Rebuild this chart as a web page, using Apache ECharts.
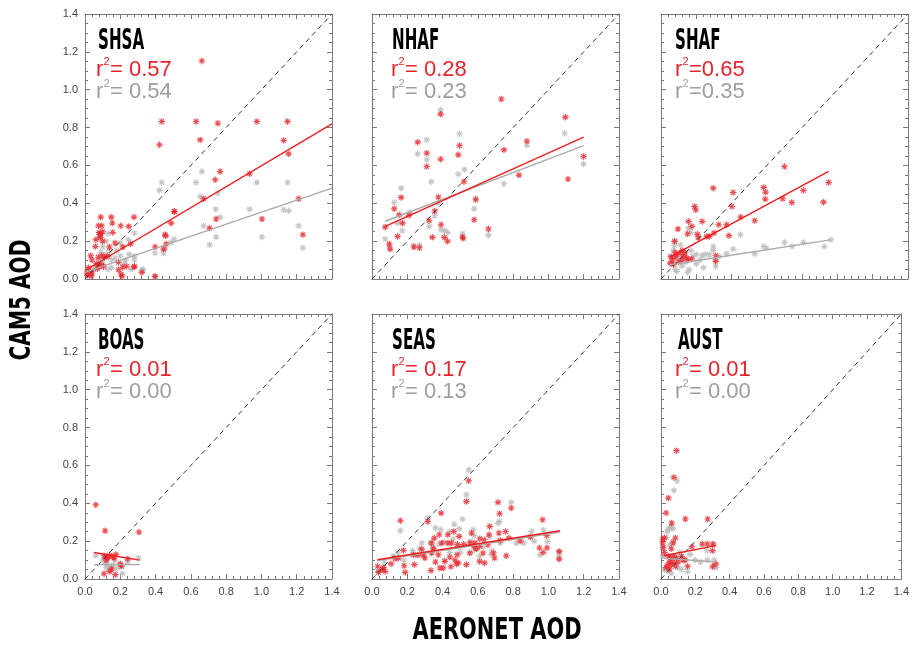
<!DOCTYPE html>
<html><head><meta charset="utf-8">
<script src="https://cdn.jsdelivr.net/npm/echarts@6/dist/echarts.min.js"></script>
<style>html,body{margin:0;padding:0;background:#fff}#c{width:912px;height:645px}</style>
</head><body><div id="c"></div>
<script>
const regions = ['SHSA','NHAF','SHAF','BOAS','SEAS','AUST'];
const r2Red = ['0.57','0.28','0.65','0.01','0.17','0.01'];
const r2Gray = ['0.54','0.23','0.35','0.00','0.13','0.00'];
const r2Sep = [' ',' ','',' ',' ',' '];
const tickValues = [0,0.2,0.4,0.6,0.8,1.0,1.2,1.4];

const shsaRed = [[0.662,1.152],[0.435,0.832],[0.630,0.832],[0.753,0.823],[0.974,0.832],[1.148,0.832],[0.422,0.709],[0.653,0.735],[1.126,0.732],[1.154,0.661],[0.766,0.568],[0.738,0.524],[0.933,0.556],[0.672,0.424],[1.211,0.424],[0.505,0.357],[0.743,0.317],[1.003,0.317],[0.488,0.295],[0.706,0.269],[1.235,0.234],[0.454,0.234],[0.460,0.185],[0.397,0.169],[0.445,0.158],[0.397,0.014],[0.322,0.035],[0.280,0.067],
[0.089,0.327],[0.149,0.327],[0.278,0.327],[0.076,0.281],[0.095,0.281],[0.155,0.296],[0.202,0.281],[0.248,0.278],[0.08,0.245],[0.09,0.24],[0.1,0.25],[0.085,0.235],[0.157,0.246],[0.062,0.208],[0.087,0.22],[0.059,0.172],[0.1,0.2],[0.138,0.169],[0.17,0.19],[0.214,0.169],[0.259,0.186],[0.032,0.123],[0.04,0.1],[0.075,0.115],[0.095,0.123],[0.11,0.115],[0.13,0.12],[0.02,0.06],[0.03,0.04],[0.015,0.02],[0.035,0.015],[0.04,0.03],[0.01,0.03],[0.066,0.081],[0.08,0.065],[0.095,0.075],[0.105,0.065],[0.07,0.055],[0.189,0.088],[0.214,0.062],[0.19,0.049],[0.236,0.067],[0.278,0.063],[0.21,0.015],[0.205,0.025],[0.457,0.228],[0.507,0.356]];
const shsaGray = [[0.662,0.568],[0.435,0.510],[0.630,0.510],[0.422,0.468],[0.974,0.510],[1.148,0.510],[0.753,0.454],[0.653,0.436],[0.741,0.369],[0.933,0.369],[1.126,0.366],[1.154,0.360],[0.766,0.327],[0.672,0.281],[1.211,0.281],[0.706,0.181],[0.743,0.222],[1.003,0.222],[1.235,0.164],[0.505,0.211],[0.488,0.193],[0.454,0.158],[0.397,0.137],[0.445,0.137],[0.397,0.014],[0.28,0.243],[0.246,0.208],[0.322,0.049],
[0.05,0.05],[0.08,0.1],[0.1,0.09],[0.12,0.13],[0.15,0.1],[0.18,0.15],[0.2,0.12],[0.22,0.08],[0.25,0.13],[0.1,0.17],[0.12,0.2],[0.08,0.22],[0.15,0.06],[0.03,0.03],[0.06,0.07],[0.13,0.05],[0.17,0.11],[0.2,0.19],[0.23,0.1],[0.26,0.05],[0.28,0.1],[0.14,0.15],[0.09,0.14],[0.13,0.24],[0.28,0.12],[0.33,0.05]];

const nhafRed = [[0.733,0.951],[0.389,0.871],[1.096,0.855],[0.259,0.723],[0.496,0.705],[0.878,0.728],[0.310,0.665],[0.489,0.656],[0.748,0.682],[0.389,0.633],[0.310,0.594],[1.199,0.647],[0.521,0.514],[0.833,0.549],[1.111,0.528],[0.165,0.431],[0.588,0.419],[0.126,0.371],[0.376,0.433],[0.154,0.339],[0.210,0.336],[0.355,0.359],[0.075,0.274],[0.173,0.295],[0.323,0.308],[0.391,0.287],[0.579,0.313],[0.660,0.264],[0.145,0.225],[0.342,0.220],[0.410,0.220],[0.428,0.199],[0.513,0.222],[0.517,0.215],[0.098,0.185],[0.103,0.158],[0.237,0.169],[0.269,0.165]];
const nhafGray = [[0.389,0.893],[1.092,0.770],[0.259,0.661],[0.310,0.735],[0.496,0.767],[0.310,0.630],[0.878,0.707],[1.199,0.608],[0.524,0.577],[0.489,0.554],[0.336,0.514],[0.165,0.480],[0.748,0.503],[0.126,0.404],[0.212,0.352],[0.588,0.427],[0.579,0.371],[0.376,0.401],[0.355,0.334],[0.171,0.255],[0.325,0.278],[0.391,0.260],[0.412,0.255],[0.429,0.246],[0.660,0.232],[0.513,0.239],[0.075,0.211],[0.098,0.172],[0.269,0.179],[0.237,0.176],[0.145,0.295]];

const shafRed = [[0.700,0.594],[0.950,0.510],[0.296,0.480],[0.409,0.457],[0.582,0.484],[0.593,0.459],[0.807,0.468],[0.921,0.406],[0.591,0.422],[0.690,0.424],[0.741,0.404],[0.190,0.383],[0.197,0.366],[0.402,0.383],[0.233,0.304],[0.156,0.304],[0.175,0.278],[0.096,0.264],[0.327,0.287],[0.452,0.327],[0.531,0.308],[0.372,0.287],[0.150,0.239],[0.206,0.237],[0.300,0.243],[0.385,0.229],[0.274,0.225],[0.077,0.199],[0.212,0.217],[0.259,0.225],[0.310,0.123],[0.310,0.093],[0.058,0.116],[0.081,0.116],[0.109,0.137],[0.137,0.137],[0.155,0.102],[0.071,0.076],[0.052,0.084],[0.127,0.116],[0.174,0.106],[0.092,0.128],[0.146,0.111],[0.118,0.098],[0.065,0.1],[0.1,0.09],[0.08,0.14],[0.12,0.15]];
const shafGray = [[0.963,0.207],[0.925,0.172],[0.807,0.193],[0.743,0.172],[0.700,0.193],[0.597,0.164],[0.582,0.172],[0.531,0.134],[0.450,0.234],[0.409,0.158],[0.372,0.134],[0.310,0.102],[0.310,0.067],[0.296,0.172],[0.296,0.151],[0.274,0.128],[0.156,0.269],[0.169,0.246],[0.233,0.123],[0.077,0.176],
[0.06,0.08],[0.08,0.05],[0.1,0.1],[0.12,0.07],[0.14,0.09],[0.16,0.05],[0.18,0.12],[0.2,0.08],[0.22,0.1],[0.25,0.13],[0.05,0.12],[0.07,0.15],[0.09,0.04],[0.13,0.13],[0.17,0.15],[0.2,0.13],[0.24,0.06],[0.15,0.035],[0.11,0.18],[0.08,0.2],[0.33,0.12]];

const boasRed = [[0.061,0.392],[0.114,0.255],[0.306,0.248],[0.108,0.123],[0.123,0.116],[0.14,0.125],[0.155,0.118],[0.175,0.13],[0.165,0.11],[0.242,0.106],[0.12,0.10],[0.208,0.067],[0.151,0.053],[0.108,0.028],[0.172,0.023],[0.14,0.04],[0.2,0.08],[0.13,0.11]];
const boasGray = [[0.061,0.123],[0.303,0.111],[0.115,0.09],[0.125,0.08],[0.135,0.065],[0.15,0.06],[0.16,0.075],[0.18,0.055],[0.12,0.06],[0.212,0.028],[0.24,0.09],[0.1,0.1],[0.17,0.1],[0.2,0.07],[0.14,0.045]];

const seasRed = [[0.548,0.519],[0.535,0.410],[0.392,0.348],[0.714,0.405],[0.789,0.375],[0.723,0.345],[0.161,0.308],[0.316,0.304],[0.967,0.313],[0.667,0.278],[0.757,0.251],[0.719,0.243],[0.564,0.243],[0.464,0.251],[0.381,0.234],[0.353,0.216],[0.494,0.225],[0.430,0.234],[0.611,0.213],[0.636,0.207],[0.663,0.234],[0.727,0.204],[0.776,0.216],[0.898,0.222],[0.99,0.23],[0.282,0.158],[0.338,0.190],[0.395,0.19],[0.43,0.19],[0.45,0.19],[0.347,0.163],[0.485,0.183],[0.52,0.183],[0.555,0.19],[0.577,0.172],[0.59,0.158],[0.61,0.172],[0.629,0.137],[0.657,0.181],[0.689,0.137],[0.695,0.111],[0.761,0.123],[0.84,0.2],[0.949,0.164],[0.992,0.164],[0.97,0.14],[1.061,0.146],[1.061,0.105],[0.178,0.151],[0.235,0.128],[0.26,0.125],[0.29,0.128],[0.300,0.111],[0.338,0.137],[0.376,0.128],[0.413,0.093],[0.441,0.116],[0.483,0.128],[0.489,0.085],[0.535,0.076],[0.610,0.093],[0.638,0.085],[0.182,0.070],[0.188,0.035],[0.240,0.076],[0.334,0.045],[0.385,0.058],[0.404,0.058],[0.447,0.065],[0.479,0.079],[0.032,0.067],[0.037,0.035],[0.06,0.05],[0.065,0.06],[0.075,0.04],[0.108,0.08],[0.131,0.107],[0.15,0.11],[0.47,0.10],[0.553,0.137],[0.583,0.19],[0.36,0.09]];
const seasGray = [[0.548,0.577],[0.535,0.445],[0.789,0.405],[0.723,0.304],[0.714,0.295],[0.161,0.255],[0.316,0.321],[0.513,0.316],[0.972,0.259],[0.905,0.252],[0.466,0.290],[0.494,0.266],[0.574,0.261],[0.667,0.223],[0.727,0.190],[0.818,0.190],[0.952,0.128],[0.996,0.198],[0.282,0.19],[0.33,0.19],[0.38,0.185],[0.41,0.195],[0.46,0.21],[0.292,0.12],[0.41,0.1],[0.44,0.14],[0.565,0.14],[0.59,0.16],[0.675,0.13],[0.68,0.15],[0.146,0.137],[0.07,0.09],[0.06,0.05],[0.035,0.04],[0.35,0.16],[0.5,0.17],[0.61,0.12],[0.23,0.15],[0.56,0.2],[0.58,0.23],[0.39,0.26],[0.44,0.25],[0.36,0.27],[0.27,0.16],[0.12,0.12],[0.18,0.1],[0.5,0.14],[0.63,0.17],[0.86,0.19],[0.92,0.2],[1.06,0.14],[1.06,0.12]];

const austRed = [[0.090,0.678],[0.075,0.537],[0.043,0.428],[0.030,0.349],[0.142,0.317],[0.272,0.317],[0.062,0.296],[0.084,0.217],[0.020,0.217],[0.01,0.21],[0.071,0.190],[0.012,0.165],[0.06,0.16],[0.240,0.185],[0.27,0.185],[0.302,0.185],[0.3,0.15],[0.18,0.17],[0.14,0.1],[0.12,0.12],[0.043,0.12],[0.055,0.11],[0.071,0.12],[0.09,0.11],[0.1,0.09],[0.127,0.1],[0.048,0.085],[0.035,0.07],[0.06,0.075],[0.085,0.067],[0.05,0.053],[0.03,0.06],[0.07,0.09],[0.155,0.067],[0.30,0.065],[0.32,0.08],[0.01,0.19],[0.02,0.14]];
const austGray = [[0.093,0.519],[0.075,0.468],[0.06,0.28],[0.04,0.26],[0.035,0.25],[0.05,0.27],[0.07,0.265],[0.03,0.22],[0.012,0.165],[0.01,0.12],[0.27,0.15],[0.31,0.1],[0.31,0.07],[0.32,0.06],[0.27,0.1],[0.155,0.04],[0.2,0.1],[0.23,0.09],[0.14,0.1],[0.05,0.1],[0.08,0.08],[0.1,0.06],[0.12,0.05],[0.04,0.04],[0.06,0.03],[0.02,0.05],[0.09,0.12],[0.11,0.14],[0.07,0.2],[0.05,0.18],[0.31,0.18],[0.17,0.13]];

// regression fit lines: [x0, y0, x1, y1]
const fitRed = [[0,0.045,1.4,0.82],[0.075,0.278,1.2,0.75],[0.05,0.116,0.95,0.568],[0.05,0.14,0.31,0.10],[0.03,0.102,1.066,0.255],[0.015,0.123,0.32,0.176]];
const fitGray = [[0,0.035,1.4,0.48],[0.075,0.305,1.2,0.705],[0.05,0.075,0.96,0.207],[0.05,0.076,0.31,0.076],[0.03,0.097,1.066,0.248],[0.015,0.11,0.32,0.09]];
const oneToOne = [[0,0],[1.4,1.4]];

const redPts = [shsaRed, nhafRed, shafRed, boasRed, seasRed, austRed];
const grayPts = [shsaGray, nhafGray, shafGray, boasGray, seasGray, austGray];

const chart = echarts.init(document.getElementById('c'), null, {renderer:'canvas'});
const gridLefts = [85, 372, 661], gridTops = [14, 314], gw = 247, gh = 265;
const titleOff = [13,20,14,13,20,17], rOff = [11,19,14,11,19,14];
const RED = '#e8232b', GRAY = '#b8b8b8', AX = '#7a7a7a';
const star = 'path://M0,4L8,4M4,0L4,8M1.2,1.2L6.8,6.8M6.8,1.2L1.2,6.8';
const grid = [], xAxis = [], yAxis = [], series = [], graphic = [];
const lblFont = {fontFamily:'Liberation Sans, Arial, sans-serif', fontSize:11, color:'#444'};

for (let i = 0; i < 6; i++) {
  const col = i % 3, row = Math.floor(i / 3);
  const gl = gridLefts[col], gt = gridTops[row];
  grid.push({left: gl, top: gt, width: gw, height: gh});
  const base = (pos, showLbl, split) => ({
    type: 'value', gridIndex: i, min: 0, max: 1.4, interval: 0.2, position: pos,
    axisLine: {show: true, onZero: false, lineStyle: {color: AX, width: 1}},
    axisTick: {show: true, inside: true, length: 5, lineStyle: {color: AX}},
    minorTick: {show: true, splitNumber: split, length: 3, lineStyle: {color: AX}},
    splitLine: {show: false},
    axisLabel: Object.assign({show: showLbl, margin: 7, formatter: v => v.toFixed(1), showMinLabel: true, showMaxLabel: true}, lblFont)
  });
  xAxis.push(base('bottom', row === 1, 5));
  xAxis.push(base('top', false, 5));
  yAxis.push(base('left', col === 0, 4));
  yAxis.push(base('right', false, 4));
  const ax = {xAxisIndex: 2*i, yAxisIndex: 2*i};
  series.push(Object.assign({type:'scatter', data: grayPts[i], symbol: star, symbolSize: 6.5, silent: true,
    itemStyle: {color: 'rgba(0,0,0,0)', borderColor: GRAY, borderWidth: 1.1}}, ax));
  series.push(Object.assign({type:'scatter', data: redPts[i], symbol: star, symbolSize: 6.5, silent: true,
    itemStyle: {color: 'rgba(0,0,0,0)', borderColor: RED, borderWidth: 1.1}}, ax));
  series.push(Object.assign({type:'line', data: oneToOne, symbol:'none', silent:true,
    lineStyle:{color:'#222', width:0.9, type:[5,4]}}, ax));
  const fg = fitGray[i], fr = fitRed[i];
  series.push(Object.assign({type:'line', data: [[fg[0],fg[1]],[fg[2],fg[3]]], symbol:'none', silent:true,
    lineStyle:{color:'#aaaaaa', width:1.4}}, ax));
  series.push(Object.assign({type:'line', data: [[fr[0],fr[1]],[fr[2],fr[3]]], symbol:'none', silent:true,
    lineStyle:{color:'#f01c1c', width:1.4}}, ax));

  // panel texts
  graphic.push({type:'text', x: gl + titleOff[i], y: gt + 28, scaleX: 0.6, silent:true,
    style:{text: regions[i], font: 'bold 28px "Liberation Sans Narrow", "DejaVu Sans Condensed", sans-serif', fill:'#000', textVerticalAlign:'middle'}});
  const lines = [[r2Red[i], RED, 56], [r2Gray[i], '#9e9e9e', 78]];
  lines.forEach(([val, colr, dy]) => {
    const x0 = gl + rOff[i];
    graphic.push({type:'text', x: x0, y: gt + dy, silent:true,
      style:{text:'r', font:'22px "Liberation Sans", Arial, sans-serif', fill: colr, textVerticalAlign:'middle'}});
    graphic.push({type:'text', x: x0 + 7.5, y: gt + dy - 8, silent:true,
      style:{text:'2', font:'11px "Liberation Sans", Arial, sans-serif', fill: colr, textVerticalAlign:'middle'}});
    graphic.push({type:'text', x: x0 + 14, y: gt + dy, silent:true,
      style:{text:'=' + r2Sep[i] + val, font:'22px "Liberation Sans", Arial, sans-serif', fill: colr, textVerticalAlign:'middle'}});
  });
}

graphic.push({type:'text', x: 23, y: 300, rotation: Math.PI/2, scaleX: 0.8, silent:true,
  style:{text:'CAM5 AOD', font:'bold 28px "Liberation Sans Narrow", "DejaVu Sans Condensed", sans-serif', fill:'#000', textAlign:'center', textVerticalAlign:'middle'}});
graphic.push({type:'text', x: 497, y: 631, scaleX: 0.75, silent:true,
  style:{text:'AERONET AOD', font:'bold 31px "Liberation Sans Narrow", "DejaVu Sans Condensed", sans-serif', fill:'#000', textAlign:'center', textVerticalAlign:'middle'}});

chart.setOption({animation: false, backgroundColor: '#fff', grid, xAxis, yAxis, series, graphic});
</script>
</body></html>
